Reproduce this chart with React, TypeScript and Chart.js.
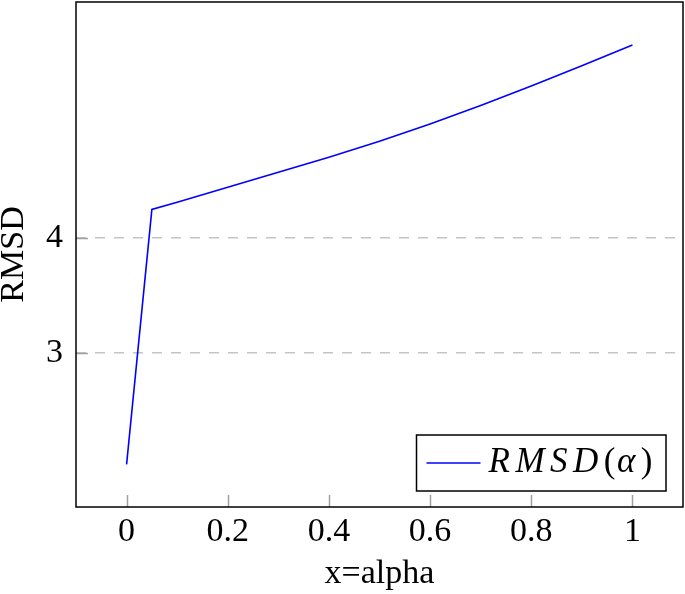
import React, { useEffect, useRef } from "react";
import { Chart, registerables } from "chart.js";

Chart.register(...registerables);

const alphaValues = [0, 0.05, 0.1, 0.2, 0.3, 0.4, 0.5, 0.6, 0.7, 0.8, 0.9, 1.0];
const rmsdValues = [2.03, 4.247, 4.31, 4.44, 4.57, 4.7, 4.84, 4.99, 5.15, 5.32, 5.495, 5.676];
const xTickValues = [0, 0.2, 0.4, 0.6, 0.8, 1];
const yTickValues = [3, 4];
const seriesLabel = "RMSD(α)";
const xTitle = "x=alpha";
const yTitle = "RMSD";

const SERIF = '"Liberation Serif", "DejaVu Serif", serif';
const FONT_SIZE = 34;

const framePlugin = {
  id: "frameAndLegend",
  afterDatasetsDraw(chart: any) {
    const { ctx, chartArea: a, scales } = chart;
    ctx.save();
    // inside tick marks
    ctx.strokeStyle = "#a0a0a0";
    ctx.lineWidth = 1.5;
    ctx.setLineDash([]);
    scales.x.ticks.forEach((t: any) => {
      const px = Math.round(scales.x.getPixelForValue(t.value)) + 0.5;
      ctx.beginPath();
      ctx.moveTo(px, a.bottom);
      ctx.lineTo(px, a.bottom - 12);
      ctx.stroke();
    });
    scales.y.ticks.forEach((t: any) => {
      const py = Math.round(scales.y.getPixelForValue(t.value)) + 0.5;
      ctx.beginPath();
      ctx.moveTo(a.left, py);
      ctx.lineTo(a.left + 12, py);
      ctx.stroke();
    });
    // frame
    ctx.strokeStyle = "#000";
    ctx.lineWidth = 1.5;
    ctx.strokeRect(a.left, a.top, a.right - a.left, a.bottom - a.top);

    // legend
    const ds = chart.data.datasets[0];
    const label: string = ds.label;
    const itFont = `italic ${FONT_SIZE + 1}px ${SERIF}`;
    const upFont = `${FONT_SIZE + 1}px ${SERIF}`;
    const spacing = 5.5;
    const chars = Array.from(label).map((c) => {
      const italic = /[A-Za-zα-ω]/.test(c);
      ctx.font = italic ? itFont : upFont;
      return { c, italic, w: ctx.measureText(c).width + (italic ? spacing : 1.5) };
    });
    const textW = chars.reduce((s, ch) => s + ch.w, 0);
    const boxH = 56;
    const padL = 10;
    const lineLen = 54;
    const gap = 8;
    const padR = 12;
    const boxW = padL + lineLen + gap + textW + padR;
    const boxRight = a.right - 17;
    const boxBottom = a.bottom - 16;
    const bx = boxRight - boxW;
    const by = boxBottom - boxH;
    ctx.fillStyle = "#fff";
    ctx.fillRect(bx, by, boxW, boxH);
    ctx.strokeStyle = "#000";
    ctx.lineWidth = 1.5;
    ctx.strokeRect(bx, by, boxW, boxH);
    const cy = by + boxH / 2;
    ctx.strokeStyle = ds.borderColor;
    ctx.lineWidth = 1.3;
    ctx.beginPath();
    ctx.moveTo(bx + padL, cy);
    ctx.lineTo(bx + padL + lineLen, cy);
    ctx.stroke();
    let tx = bx + padL + lineLen + gap;
    ctx.fillStyle = "#000";
    ctx.textBaseline = "middle";
    ctx.textAlign = "left";
    chars.forEach((ch) => {
      ctx.font = ch.italic ? itFont : upFont;
      ctx.fillText(ch.c, tx, cy);
      tx += ch.w;
    });
    ctx.restore();
  },
};

export default function App() {
  const canvasRef = useRef<HTMLCanvasElement | null>(null);

  useEffect(() => {
    const canvas = canvasRef.current;
    if (!canvas) return;
    const tickFont = { family: SERIF, size: FONT_SIZE };
    const chart = new Chart(canvas, {
      type: "line",
      data: {
        datasets: [
          {
            label: seriesLabel,
            data: alphaValues.map((x, i) => ({ x, y: rmsdValues[i] })),
            borderColor: "#0000ff",
            borderWidth: 1.6,
            pointRadius: 0,
            tension: 0,
            fill: false,
          },
        ],
      },
      options: {
        responsive: false,
        animation: false,
        layout: { padding: { top: 2, right: 2, left: 0, bottom: 0 } },
        plugins: {
          legend: { display: false },
          tooltip: { enabled: false },
        },
        scales: {
          x: {
            type: "linear",
            min: -0.1,
            max: 1.1,
            afterBuildTicks: (s: any) => {
              s.ticks = xTickValues.map((v) => ({ value: v }));
            },
            afterFit: (s: any) => {
              s.height = 87;
              s.paddingLeft = 0;
              s.paddingRight = 0;
            },
            grid: { drawOnChartArea: false, drawTicks: false },
            border: { display: false },
            ticks: {
              padding: 5,
              color: "#000",
              font: tickFont,
              maxRotation: 0,
              autoSkip: false,
              callback: (v: any) => String(v),
            },
            title: {
              display: true,
              text: xTitle,
              color: "#000",
              font: { family: SERIF, size: FONT_SIZE, lineHeight: 1.2 },
              padding: { top: 0, bottom: 0 },
            },
          },
          y: {
            type: "linear",
            min: 1.66,
            max: 6.05,
            afterBuildTicks: (s: any) => {
              s.ticks = yTickValues.map((v) => ({ value: v }));
            },
            afterFit: (s: any) => {
              s.width = 76;
              s.paddingTop = 0;
              s.paddingBottom = 0;
            },
            grid: { color: "#c4c4c4", lineWidth: 1.5, drawTicks: false },
            border: { display: false, dash: [10, 9] },
            ticks: {
              padding: 13,
              color: "#000",
              font: tickFont,
              autoSkip: false,
              callback: (v: any) => String(v),
            },
            title: {
              display: true,
              text: yTitle,
              color: "#000",
              font: { family: SERIF, size: FONT_SIZE, lineHeight: 0.8 },
              padding: { top: 0, bottom: 0 },
            },
          },
        },
      },
      plugins: [framePlugin],
    });
    return () => chart.destroy();
  }, []);

  return (
    <div style={{ position: "absolute", left: 0, top: 0, width: 685, height: 594, background: "#fff" }}>
      <canvas ref={canvasRef} width={685} height={594} style={{ display: "block" }} />
    </div>
  );
}
